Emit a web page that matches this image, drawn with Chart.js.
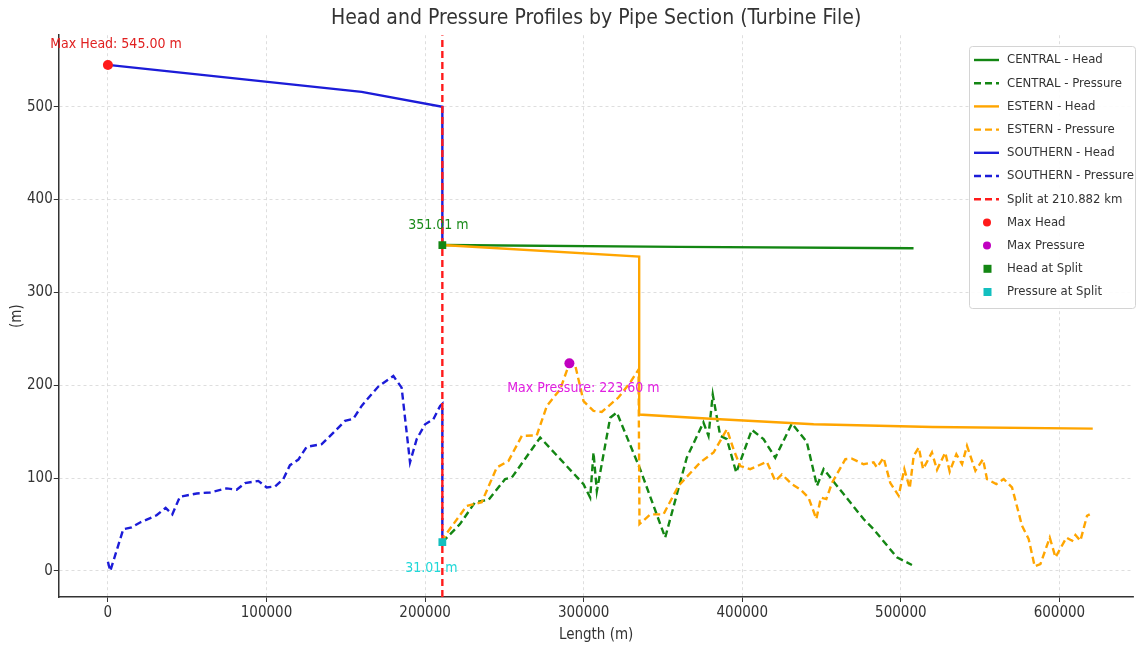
<!DOCTYPE html>
<html lang="en">
<head>
<meta charset="utf-8" />
<title>Head and Pressure Profiles</title>
<script src="https://cdn.jsdelivr.net/npm/chart.js@4.4.1/dist/chart.umd.min.js"></script>
<style>
  html, body { margin: 0; padding: 0; background: #fff; }
  #wrap { width: 1139px; height: 646px; }
</style>
</head>
<body>
<div id="wrap"><canvas id="profile"></canvas></div>
<script>
// ---- data ----
var splitX = 210882;

var centralHeadX = [210882, 360000, 508000];
var centralHeadY = [351.01, 349, 347.5];

var centralPressureX = [210882, 222000, 231500, 240000, 250500, 254700, 272600, 299900, 304100, 306200, 308300, 316700, 320900, 335600, 351400, 365000, 375500, 378700, 381400, 386100, 390300, 396200, 406000, 413400, 420800, 431300, 440700, 447100, 451300, 463900, 476500, 482800, 497500, 507000];
var centralPressureY = [31.01, 50.5, 74, 76.7, 99, 100.7, 143.7, 93.5, 79, 127.6, 86, 165, 170.6, 109.7, 36, 122, 160, 145.5, 190, 145.5, 142, 106, 152, 142, 122, 158.8, 139, 91.7, 109.7, 82.8, 56, 45, 14.7, 6.5];

var esternHeadX = [210882, 335000, 335000, 380000, 445000, 520000, 621000];
var esternHeadY = [351.01, 338.5, 168.5, 164, 158, 155, 153.3];

var esternPressureX = [210882, 212500, 226200, 235700, 245200, 252600, 261000, 270400, 276800, 285200, 291000, 294600, 299900, 306200, 311400, 321900, 329300, 334600, 335200, 342000, 350300, 359800, 373500, 381900, 390300, 394500, 398700, 405000, 415500, 420800, 425000, 431300, 436500, 441800, 446700, 449600, 453000, 456600, 465000, 469200, 476500, 482800, 484900, 489100, 493300, 498600, 502200, 505600, 508100, 511300, 514000, 519600, 522800, 528000, 530800, 535000, 538600, 541700, 547000, 551800, 554300, 560200, 564900, 570100, 576400, 580600, 584400, 588000, 593900, 597500, 604400, 608000, 610100, 613200, 617400, 619100];
var esternPressureY = [31.01, 38, 70, 74, 111.5, 118.6, 145.5, 146, 177.8, 195.7, 223.6, 222, 183, 172.4, 171.3, 186.8, 203, 217, 50.5, 61, 61, 91.7, 117, 127.6, 152.7, 131, 113, 109.7, 117.6, 97, 104, 93.5, 88, 79, 56, 79, 77.4, 95, 120.4, 121, 115, 117, 111.5, 122, 95, 81, 109.7, 89, 124, 133, 109.7, 127.6, 109, 127.6, 107, 125.8, 115, 134.7, 108, 120.4, 99, 93.5, 99, 90, 48.7, 34.4, 5, 7.5, 36, 14.7, 36, 32.6, 38.7, 32.6, 59.5, 61];

var southernHeadX = [0, 160000, 210882, 210882];
var southernHeadY = [545, 516, 500, 351.01];

var southernPressureX = [0, 1500, 9700, 15000, 20000, 30700, 36400, 40600, 45400, 56000, 64400, 74900, 81200, 86400, 94800, 100100, 105400, 110600, 114800, 120100, 125300, 134800, 142200, 149500, 154800, 160000, 165300, 170500, 180000, 185200, 190500, 194700, 200000, 205200, 209500, 210882, 210882];
var southernPressureY = [10, 0, 45, 47, 52, 60, 68, 61, 80, 83.5, 84.6, 89, 87.5, 94.6, 97, 90, 91, 99, 114, 120, 133.7, 136.6, 149, 161.6, 164, 177.8, 188.5, 198.6, 210, 197.5, 117, 142, 158, 163.4, 177.8, 180, 31.01];

var maxHead = { x: 0, y: 545.00 };
var maxPressure = { x: 291000, y: 223.60 };
var headAtSplit = { x: splitX, y: 351.01 };
var pressureAtSplit = { x: splitX, y: 31.01 };

var xTicks = [0, 100000, 200000, 300000, 400000, 500000, 600000];
var yTicks = [0, 100, 200, 300, 400, 500];
var xMin = -31000, xMax = 646700;
var yMin = -28, yMax = 577;

function pts(xs, ys) {
  return xs.map(function (x, i) { return { x: x, y: ys[i] }; });
}

var GREEN = '#138613', ORANGE = '#ffa500', BLUE = '#1c1cd8', RED = '#ff1a1a',
    MAGENTA = '#c000c0', CYAN = '#13bfbf';
var FONT = "'DejaVu Sans Condensed', 'DejaVu Sans', sans-serif";

var lineDefs = [
  { label: 'CENTRAL - Head', data: pts(centralHeadX, centralHeadY), color: GREEN, dash: [] },
  { label: 'CENTRAL - Pressure', data: pts(centralPressureX, centralPressureY), color: GREEN, dash: [7, 4] },
  { label: 'ESTERN - Head', data: pts(esternHeadX, esternHeadY), color: ORANGE, dash: [] },
  { label: 'ESTERN - Pressure', data: pts(esternPressureX, esternPressureY), color: ORANGE, dash: [7, 4] },
  { label: 'SOUTHERN - Head', data: pts(southernHeadX, southernHeadY), color: BLUE, dash: [] },
  { label: 'SOUTHERN - Pressure', data: pts(southernPressureX, southernPressureY), color: BLUE, dash: [7, 4] },
  { label: 'Split at 210.882 km', data: [{ x: splitX, y: yMin }, { x: splitX, y: yMax }], color: RED, dash: [7, 4] }
];
var markerDefs = [
  { label: 'Max Head', data: [maxHead], color: RED, style: 'circle', r: 5 },
  { label: 'Max Pressure', data: [maxPressure], color: MAGENTA, style: 'circle', r: 5 },
  { label: 'Head at Split', data: [headAtSplit], color: GREEN, style: 'rect', r: 5.5 },
  { label: 'Pressure at Split', data: [pressureAtSplit], color: CYAN, style: 'rect', r: 5.5 }
];

var datasets = [];
var total = lineDefs.length + markerDefs.length;
lineDefs.forEach(function (d, i) {
  datasets.push({
    label: d.label, data: d.data, showLine: true,
    borderColor: d.color, backgroundColor: d.color,
    borderWidth: 2.4, borderDash: d.dash, pointRadius: 0, tension: 0,
    order: total - i
  });
});
markerDefs.forEach(function (d, i) {
  datasets.push({
    label: d.label, data: d.data, showLine: false,
    backgroundColor: d.color, borderColor: d.color, borderWidth: 0,
    pointStyle: d.style, pointRadius: d.r, order: total - lineDefs.length - i
  });
});

// text notes next to the markers
var notes = [
  { p: maxHead, text: 'Max Head: 545.00 m', color: '#e02020', dx: 8, dy: -21 },
  { p: headAtSplit, text: '351.01 m', color: '#1a8a1a', dx: -4, dy: -20 },
  { p: pressureAtSplit, text: '31.01 m', color: '#20d8d8', dx: -11, dy: 26 },
  { p: maxPressure, text: 'Max Pressure: 223.60 m', color: '#e020e0', dx: 14, dy: 25 }
];

var notesPlugin = {
  id: 'notes',
  afterDatasetsDraw: function (chart) {
    var ctx = chart.ctx, xs = chart.scales.x, ys = chart.scales.y;
    ctx.save();
    ctx.font = '14px ' + FONT;
    ctx.textAlign = 'center';
    ctx.textBaseline = 'middle';
    notes.forEach(function (n) {
      ctx.fillStyle = n.color;
      ctx.fillText(n.text, xs.getPixelForValue(n.p.x) + n.dx, ys.getPixelForValue(n.p.y) + n.dy);
    });
    ctx.restore();
  }
};

// legend box drawn inside the plot, upper right
var boxLegend = {
  id: 'boxLegend',
  afterDraw: function (chart) {
    var ctx = chart.ctx;
    var x0 = 969, y0 = 46, w = 166, h = 262, step = 23.2;
    ctx.save();
    ctx.fillStyle = 'rgba(255,255,255,0.9)';
    ctx.strokeStyle = '#d4d4d4';
    ctx.lineWidth = 1;
    ctx.beginPath();
    ctx.roundRect(x0 + 0.5, y0 + 0.5, w, h, 3);
    ctx.fill();
    ctx.stroke();
    ctx.font = '13px ' + FONT;
    ctx.textBaseline = 'middle';
    var items = lineDefs.concat(markerDefs);
    items.forEach(function (d, i) {
      var cy = y0 + 14 + i * step;
      if (d.style) {
        ctx.fillStyle = d.color;
        if (d.style === 'circle') {
          ctx.beginPath();
          ctx.arc(987, cy, 4, 0, Math.PI * 2);
          ctx.fill();
        } else {
          ctx.fillRect(983.5, cy - 4, 8, 8);
        }
      } else {
        ctx.strokeStyle = d.color;
        ctx.lineWidth = 2.4;
        ctx.setLineDash(d.dash);
        ctx.beginPath();
        ctx.moveTo(974, cy);
        ctx.lineTo(999, cy);
        ctx.stroke();
        ctx.setLineDash([]);
      }
      ctx.fillStyle = '#333';
      ctx.fillText(d.label, 1007, cy);
    });
    ctx.restore();
  }
};

function axis(ticksArr, min, max, titleText, titlePad, tickPad) {
  return {
    type: 'linear', min: min, max: max,
    afterBuildTicks: function (scale) {
      scale.ticks = ticksArr.map(function (v) { return { value: v }; });
    },
    ticks: {
      color: '#333', font: { family: FONT, size: 15 }, padding: tickPad, autoSkip: false, maxRotation: 0,
      callback: function (v) { return String(v); }
    },
    grid: { color: '#d6d6d6', lineWidth: 0.8, tickLength: 5, tickColor: '#333', tickWidth: 1 },
    border: { display: true, color: '#333', width: 1.5, dash: [3, 3] },
    title: { display: true, text: titleText, color: '#333', font: { family: FONT, size: 15 }, padding: titlePad }
  };
}

var ctx = document.getElementById('profile').getContext('2d');
var chart = new Chart(ctx, {
  type: 'scatter',
  data: { datasets: datasets },
  options: {
    responsive: true,
    maintainAspectRatio: false,
    animation: false,
    layout: { padding: { left: 8, right: 2, top: 0, bottom: 0 } },
    plugins: {
      legend: { display: false },
      tooltip: { enabled: false },
      title: {
        display: true, fullSize: false,
        text: 'Head and Pressure Profiles by Pipe Section (Turbine File)',
        color: '#333', font: { family: FONT, size: 21, weight: 'normal' },
        padding: { top: 6, bottom: 4 }
      }
    },
    scales: {
      x: axis(xTicks, xMin, xMax, 'Length (m)', { top: 2, bottom: 2 }, 2),
      y: axis(yTicks, yMin, yMax, '(m)', { top: 0, bottom: 0 }, 1)
    }
  },
  plugins: [notesPlugin, boxLegend]
});
</script>
</body>
</html>
